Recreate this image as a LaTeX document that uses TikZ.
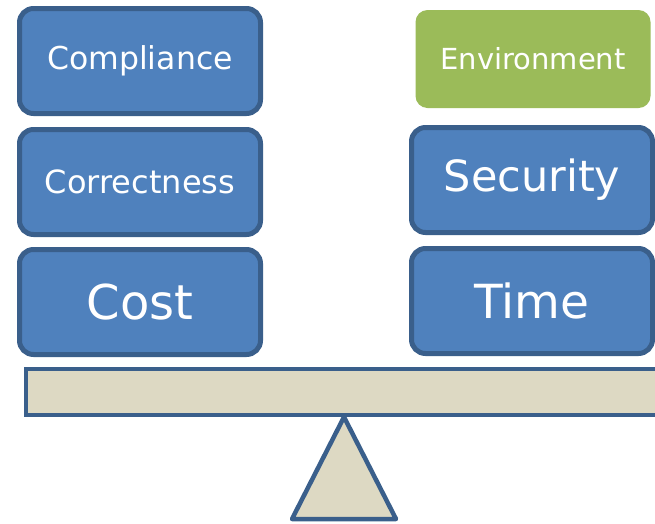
\documentclass[tikz,border=0pt]{standalone}
\usepackage{fontspec}
\setmainfont{DejaVu Sans}

\definecolor{boxblue}{HTML}{4F81BD}
\definecolor{edgeblue}{HTML}{3A5F8B}
\definecolor{boxgreen}{HTML}{9BBB59}
\definecolor{plank}{HTML}{DDD9C3}

\begin{document}
\begin{tikzpicture}
      [x=1pt,y=-1pt,
       weight/.style={rectangle,rounded corners=14pt,fill=boxblue,draw=edgeblue,
         line width=5pt,text=white,minimum width=241pt,minimum height=105pt},
       extra/.style={rectangle,rounded corners=12pt,fill=boxgreen,text=white,
         minimum width=235pt,minimum height=98pt}]
      \useasboundingbox (0,0) rectangle (655,523);

      % left pan
      \node[weight] (compliance) at (140,61) {\fontsize{31.5}{36}\selectfont Compliance};
      \node[weight] (correctness) at (140,182) {\fontsize{32}{38}\selectfont Correctness};
      \node[weight] (cost) at (140,302) {\fontsize{48}{56}\selectfont Cost};

      % right pan
      \node[extra] (environment) at (533,59) {\fontsize{29}{34}\selectfont Environment};
      \node[weight] (security) at (532,180) {\fontsize{43}{50}\selectfont Security};
      \node[weight] (time) at (532,301) {\fontsize{47}{56}\selectfont Time};

      % beam and pivot
      \draw [fill=plank,draw=edgeblue,line width=4.5pt] (26,369) rectangle (680,415);
      \draw [fill=plank,draw=edgeblue,line width=4.5pt,line join=round]
            (344,417) -- (396,519) -- (292,519) -- cycle;
    \end{tikzpicture}
\end{document}
